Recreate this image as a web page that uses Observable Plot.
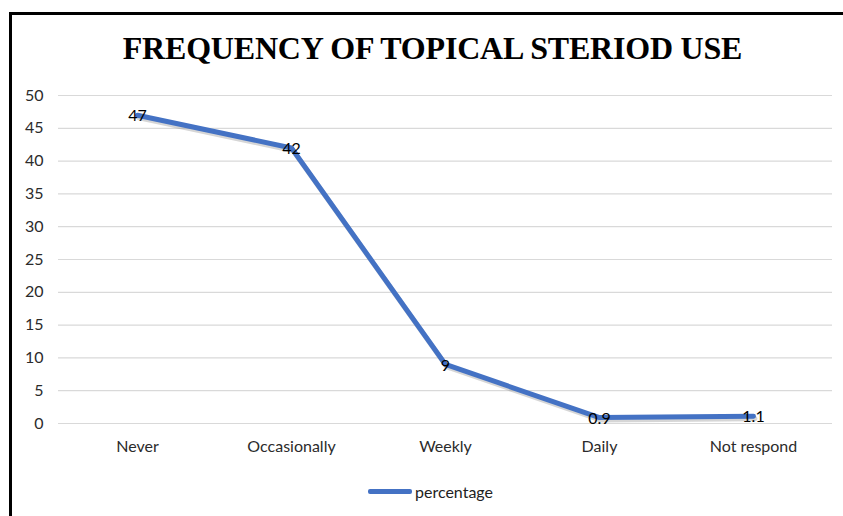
<!DOCTYPE html>
<html><head><meta charset="utf-8">
<script src="https://cdn.jsdelivr.net/npm/d3@7"></script>
<script src="https://cdn.jsdelivr.net/npm/@observablehq/plot@0.6"></script>
<style>
body{margin:0;background:#fff;width:843px;height:516px;overflow:hidden;position:relative;font-family:Lato,"Open Sans",sans-serif;}
#frame{position:absolute;left:9px;top:12px;width:840px;height:510px;border-top:3px solid #000;border-left:3px solid #000;box-sizing:border-box;}
#title{position:absolute;left:12px;top:30px;width:831px;padding-left:10px;box-sizing:border-box;text-align:center;font-family:"Liberation Serif","Times New Roman",serif;font-weight:bold;font-size:32px;line-height:36px;color:#000;letter-spacing:-0.2px;}
#chart{position:absolute;left:12px;top:80px;}
#legend{position:absolute;left:368px;top:481px;height:20px;display:flex;align-items:center;font-size:16px;color:#222;}
#legend .sw{width:44px;height:5px;background:#4472C4;border-radius:2px;margin-right:3px;}
</style></head>
<body>
<div id="frame"></div>
<div id="title">FREQUENCY OF TOPICAL STERIOD USE</div>
<div id="chart"></div>
<div id="legend"><div class="sw"></div><span>percentage</span></div>
<script>
const categories = ["Never", "Occasionally", "Weekly", "Daily", "Not respond"];
const percentage = [47, 42, 9, 0.9, 1.1];
const yTicks = [0, 5, 10, 15, 20, 25, 30, 35, 40, 45, 50];

const data = categories.map((c, i) => ({category: c, value: percentage[i]}));

const chart = Plot.plot({
  width: 831,
  height: 380,
  marginTop: 15,
  marginBottom: 37,
  marginLeft: 46,
  marginRight: 11,
  style: {fontFamily: "Lato, 'Open Sans', sans-serif", fontSize: "16px", color: "#2b2b2b", background: "#fff"},
  x: {type: "point", domain: categories, padding: 0.5, label: null},
  y: {domain: [0, 50], label: null},
  marks: [
    Plot.gridY(yTicks, {stroke: "#d9d9d9", strokeOpacity: 1, strokeWidth: 1.2}),
    Plot.axisY(yTicks, {tickSize: 0, tickPadding: 15, label: null, fontSize: 16, fill: "#2b2b2b"}),
    Plot.axisX({tickSize: 0, tickPadding: 17, label: null, fontSize: 16, fill: "#2b2b2b"}),
    Plot.line(data, {x: "category", y: "value", stroke: "#8a8a8a", strokeOpacity: 0.35, strokeWidth: 5, dx: 1.5, dy: 2.5}),
    Plot.line(data, {x: "category", y: "value", stroke: "#4472C4", strokeWidth: 5, strokeLinejoin: "round"}),
    Plot.text(data, {x: "category", y: "value", text: d => String(d.value), fill: "#000", fontSize: 16, dy: 1})
  ]
});
document.getElementById("chart").appendChild(chart);
</script>
</body></html>
